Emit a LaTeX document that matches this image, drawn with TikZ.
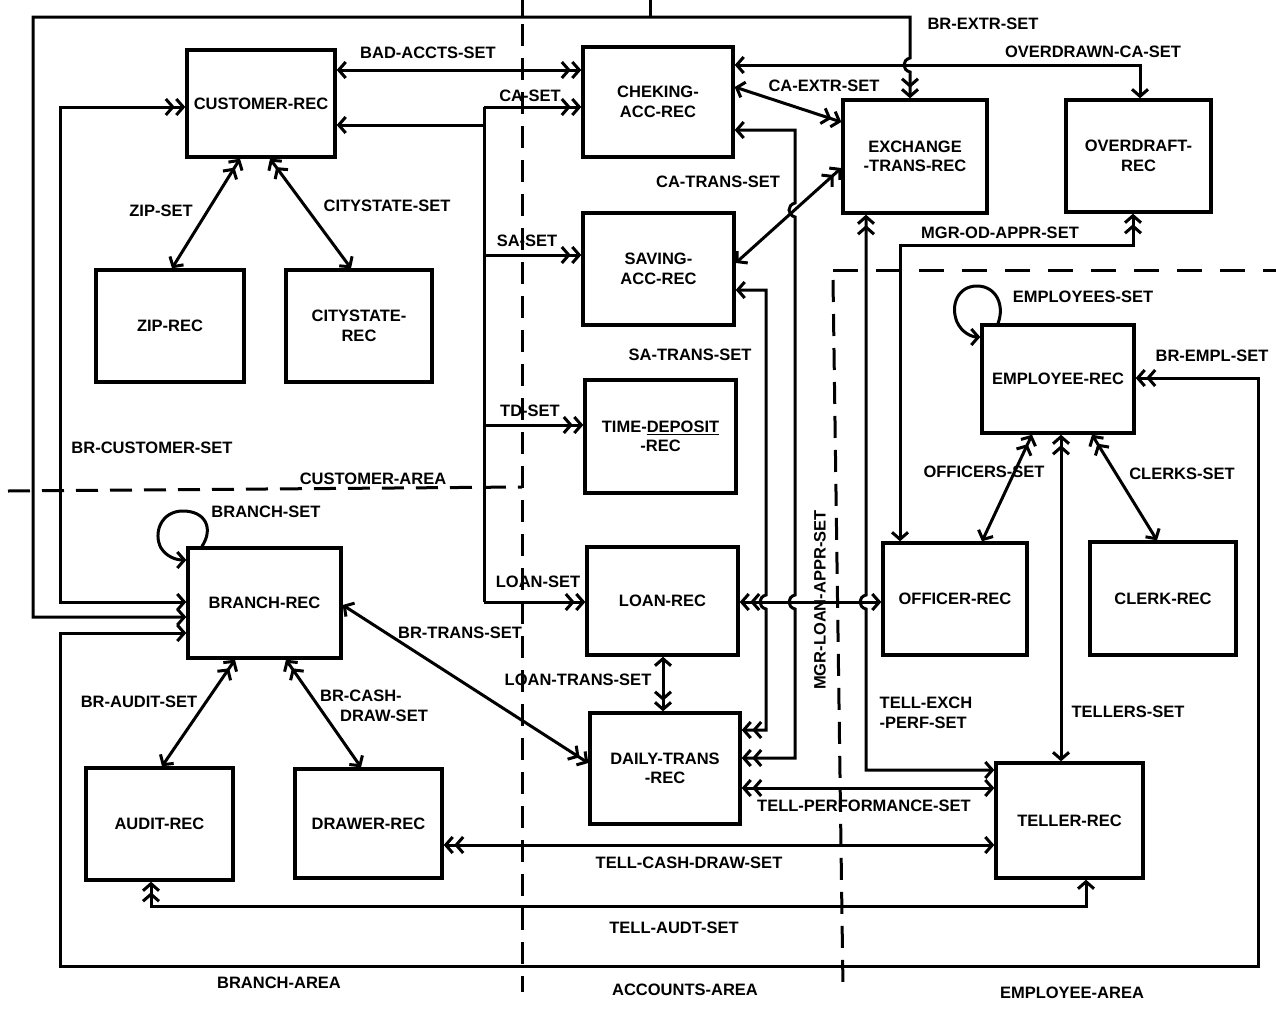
\documentclass[tikz,border=0pt]{standalone}
\usepackage{fontspec}
\setmainfont{Liberation Sans}
\usetikzlibrary{arrows.meta}
\begin{document}
\begin{tikzpicture}[x=1pt,y=-1pt,
  every node/.style={font=\bfseries\fontsize{16.5}{19.5}\selectfont, inner sep=0pt},
  rec/.style={draw, line width=3.4pt, align=center},
  link/.style={line width=3pt},
  area/.style={line width=3pt, dash pattern=on 22pt off 12pt},
  >={Straight Barb[length=7pt,width=16pt]}]

\fill[white] (0,0) rectangle (1276,1009);
\useasboundingbox (0,0) rectangle (1276,1009);

% ---------------- area boundaries ----------------
\draw[area] (8,491) -- (522,487);
\draw[line width=3pt] (522,0) -- (522,16);
\draw[area] (522,24) -- (522,992);
\draw[line width=3pt] (650,0) -- (650,16);
\draw[area, dash pattern=on 25pt off 18pt] (833,270) -- (1276,270);
\draw[area] (833,280) -- (843,988);

% ---------------- record types ----------------
\node[rec, minimum width=148pt, minimum height=107pt] (cust)   at (261,103.5) {CUSTOMER-REC};
\node[rec, minimum width=148pt, minimum height=112pt] (zip)    at (170,326)   {ZIP-REC};
\node[rec, minimum width=146pt, minimum height=112pt] (city)   at (359,326)   {CITYSTATE-\\REC};
\node[rec, minimum width=150pt, minimum height=110pt] (chk)    at (658,102)   {CHEKING-\\ACC-REC};
\node[rec, minimum width=151pt, minimum height=112pt] (sav)    at (658.5,269) {SAVING-\\ACC-REC};
\node[rec, minimum width=144pt, minimum height=113pt] (exch)   at (915,156.5) {EXCHANGE\\-TRANS-REC};
\node[rec, minimum width=145pt, minimum height=112pt] (ovd)    at (1138.5,156){OVERDRAFT-\\REC};
\node[rec, minimum width=152pt, minimum height=108pt] (emp)    at (1058,379)  {EMPLOYEE-REC};
\node[rec, minimum width=151pt, minimum height=113pt] (td)     at (660.5,436.5) {TIME-\underline{DEPOSIT}\\-REC};
\node[rec, minimum width=151pt, minimum height=108pt] (loan)   at (662.5,601) {LOAN-REC};
\node[rec, minimum width=144pt, minimum height=112pt] (off)    at (955,599)   {OFFICER-REC};
\node[rec, minimum width=146pt, minimum height=113pt] (clerk)  at (1163,598.5){CLERK-REC};
\node[rec, minimum width=150pt, minimum height=111pt] (daily)  at (665,768.5) {DAILY-TRANS\\-REC};
\node[rec, minimum width=147pt, minimum height=115pt] (teller) at (1069.5,820.5) {TELLER-REC};
\node[rec, minimum width=153pt, minimum height=110pt] (branch) at (264.5,603)  {BRANCH-REC};
\node[rec, minimum width=147pt, minimum height=112pt] (audit)  at (159.5,824) {AUDIT-REC};
\node[rec, minimum width=147pt, minimum height=109pt] (drawer) at (368.5,823.5) {DRAWER-REC};

% ---------------- customer area sets ----------------
\draw[link,<->>] (cust.east |- 0,70) -- (chk.west |- 0,70);
\coordinate (catop) at (484,107);
\coordinate (cabot) at (484,602);
\draw[link,<-] (cust.east |- 0,125) -- (catop |- 0,125);
\draw[link] (catop) -- (cabot);
\draw[link,->>] (catop) -- (chk.west |- catop);
\draw[link,->>] (catop |- 0,255) -- (sav.west |- 0,255);
\draw[link,->>] (catop |- 0,425) -- (td.west |- 0,425);
\draw[link,->>] (cabot) -- (loan.west |- cabot);
\draw[link,<<->] (240,0 |- cust.south) -- (172,0 |- zip.north);
\draw[link,<<->] (270,0 |- cust.south) -- (351,0 |- city.north);

% ---------------- branch owned sets ----------------
\coordinate (brcust) at (60,107);
\draw[link,<->>] (branch.west |- 0,602) -| (brcust) -- (cust.west |- brcust);
\coordinate (brextr) at (33,17);
\coordinate (brextrhop) at (910,58);
\draw[link,<->>] (branch.west |- 0,617) -| (brextr) -| (brextrhop)
  .. controls (902,60) and (902,70) .. (910,72) -- (910,0 |- exch.north);
\coordinate (brempl) at (60,966);
\coordinate (bremplr) at (1258,378);
\draw[link,<->>] (branch.west |- 0,633) -| (brempl) -| (bremplr) -- (emp.east |- bremplr);
\draw[link,->] (202,0 |- branch.north) .. controls (214,528) and (205,511) .. (183,511)
  .. controls (161,511) and (153,533) .. (161,548) .. controls (167,557) and (176,560) .. (branch.west |- 0,560);
\draw[link,<->>] (branch.east |- 0,605) -- (daily.west |- 0,763);
\draw[link,<<->] (235,0 |- branch.south) -- (162,0 |- audit.north);
\draw[link,<<->] (286,0 |- branch.south) -- (361,0 |- drawer.north);

% ---------------- account sets ----------------
\draw[link,<->] (chk.east |- 0,65) -| (1140,0 |- ovd.north);
\draw[link,<->>] (chk.east |- 0,87) -- (exch.west |- 0,122);
\draw[link,<->>] (sav.east |- 0,263) -- (exch.west |- 0,168);
\draw[link,<->>] (chk.east |- 0,130) -- (795,130) -- (795,203)
  .. controls (787,205) and (787,215) .. (795,217) -- (795,595)
  .. controls (787,597) and (787,607) .. (795,609) -- (795,758) -- (daily.east |- 0,758);
\draw[link,<->>] (sav.east |- 0,290) -- (766,290) -- (766,595)
  .. controls (758,597) and (758,607) .. (766,609) -- (766,730) -- (daily.east |- 0,730);
\draw[link,<->>] (663,0 |- loan.south) -- (663,0 |- daily.north);

% ---------------- employee area sets ----------------
\draw[link,<<->] (loan.east |- 0,602) -- (off.west |- 0,602);
\draw[link,<<->] (866,0 |- exch.south) -- (866,595)
  .. controls (858,597) and (858,607) .. (866,609) -- (866,770) -- (teller.west |- 0,770);
\coordinate (mgrod) at (900,245);
\draw[link,<->>] (mgrod |- off.north) -- (mgrod) -| (1133,0 |- ovd.south);
\draw[link,->] (998,0 |- emp.north) .. controls (1005,305) and (996,286) .. (977,286)
  .. controls (958,286) and (950,305) .. (957,322) .. controls (962,333) and (972,337) .. (emp.west |- 0,337);
\draw[link,<<->] (1032,0 |- emp.south) -- (982,0 |- off.north);
\draw[link,<<->] (1092,0 |- emp.south) -- (1157,0 |- clerk.north);
\draw[link,<<->] (1061,0 |- emp.south) -- (1061,0 |- teller.north);
\draw[link,<<->] (daily.east |- 0,788) -- (teller.west |- 0,788);
\draw[link,<<->] (drawer.east |- 0,845) -- (teller.west |- 0,845);
\draw[link,<<->] (151,0 |- audit.south) |- (1086,906) -- (1086,0 |- teller.south);

% ---------------- set names ----------------
\node (l-badaccts) at (428,53)  {BAD-ACCTS-SET};
\node (l-ca)       at (530,96)  {CA-SET};
\node (l-sa)       at (527,241) {SA-SET};
\node (l-td)       at (530,411) {TD-SET};
\node (l-loan)     at (538,582) {LOAN-SET};
\node (l-zip)      at (161,211) {ZIP-SET};
\node (l-city)     at (387,206) {CITYSTATE-SET};
\node (l-brcust)   at (152,448) {BR-CUSTOMER-SET};
\node (l-brextr)   at (983,24)  {BR-EXTR-SET};
\node (l-overdrawn)at (1093,52) {OVERDRAWN-CA-SET};
\node (l-caextr)   at (824,86)  {CA-EXTR-SET};
\node (l-catrans)  at (718,182) {CA-TRANS-SET};
\node (l-satrans)  at (690,355) {SA-TRANS-SET};
\node (l-mgrod)    at (1000,233){MGR-OD-APPR-SET};
\node (l-emps)     at (1083,297){EMPLOYEES-SET};
\node (l-brempl)   at (1212,356){BR-EMPL-SET};
\node (l-officers) at (984,472) {OFFICERS-SET};
\node (l-clerks)   at (1182,474){CLERKS-SET};
\node (l-mgrloan)[rotate=90] at (820,600) {MGR-LOAN-APPR-SET};
\node (l-branch)   at (266,512) {BRANCH-SET};
\node (l-brtrans)  at (460,633) {BR-TRANS-SET};
\node (l-loantrans)at (578,680) {LOAN-TRANS-SET};
\node (l-braudit)  at (139,702) {BR-AUDIT-SET};
\node (l-brcash)[align=left] at (374,706) {BR-CASH-\\\hspace*{20pt}DRAW-SET};
\node (l-tellexch)[align=left] at (926,713) {TELL-EXCH\\-PERF-SET};
\node (l-tellers)  at (1128,712){TELLERS-SET};
\node (l-tellperf) at (864,806) {TELL-PERFORMANCE-SET};
\node (l-tellcash) at (689,863) {TELL-CASH-DRAW-SET};
\node (l-tellaudt) at (674,928) {TELL-AUDT-SET};

% ---------------- area names ----------------
\node (a-customer) at (373,479) {CUSTOMER-AREA};
\node (a-branch)   at (279,983) {BRANCH-AREA};
\node (a-accounts) at (685,990) {ACCOUNTS-AREA};
\node (a-employee) at (1072,993){EMPLOYEE-AREA};
\end{tikzpicture}
\end{document}
